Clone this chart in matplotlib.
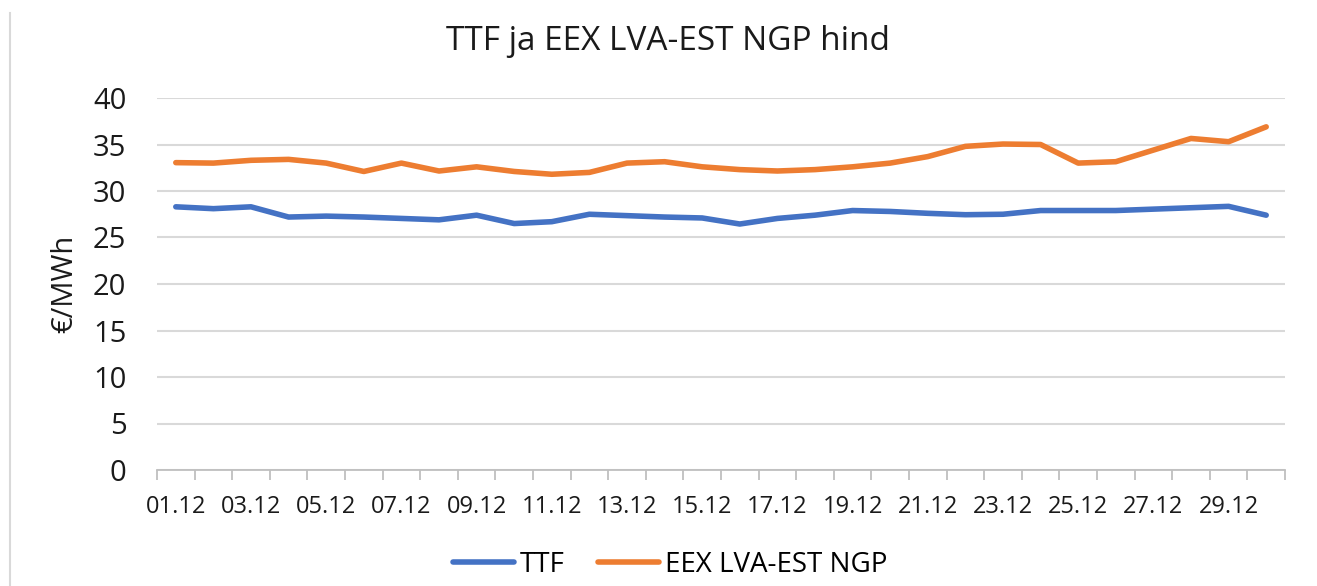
import numpy as np
import matplotlib
matplotlib.use("Agg")
import matplotlib.pyplot as plt
from matplotlib.lines import Line2D

plt.rcParams['font.family'] = ['Open Sans', 'DejaVu Sans']

# data
days = ["%02d.12" % d for d in range(1, 31)]
ttf = [28.3, 28.1, 28.3, 27.2, 27.3, 27.2, 27.05, 26.9, 27.4, 26.5,
       26.7, 27.5, 27.35, 27.2, 27.1, 26.45, 27.05, 27.4, 27.9, 27.8,
       27.6, 27.45, 27.5, 27.9, 27.9, 27.9, 28.05, 28.2, 28.35, 27.4]
eex = [33.05, 33.0, 33.3, 33.4, 33.0, 32.1, 33.0, 32.15, 32.6, 32.1,
       31.8, 32.0, 33.0, 33.15, 32.6, 32.3, 32.15, 32.3, 32.6, 33.0,
       33.7, 34.8, 35.05, 35.0, 33.0, 33.15, 34.4, 35.65, 35.3, 36.9]
yticks = [0, 5, 10, 15, 20, 25, 30, 35, 40]

blue = '#4472C4'
orange = '#ED7D31'
grid = '#D9D9D9'
txt = '#1a1a1a'

fig = plt.figure(figsize=(13.17, 5.86), dpi=100)
ax = fig.add_axes([157 / 1317, 1 - 470 / 586, (1285 - 157) / 1317, (470 - 98) / 586])

x = np.arange(len(days))
ax.plot(x, ttf, color=blue, lw=4, solid_capstyle='round', label='TTF')
ax.plot(x, eex, color=orange, lw=4, solid_capstyle='round', label='EEX LVA-EST NGP')

ax.set_xlim(-0.5, len(days) - 0.5)
ax.set_ylim(0, 40)
ax.set_yticks(yticks)
ax.set_yticklabels([str(v) for v in yticks], fontsize=21, color=txt)
ax.tick_params(axis='y', length=0, pad=22)

ax.set_xticks(x[::2])
ax.set_xticklabels(days[::2], fontsize=17, color=txt)
ax.set_xticks(np.arange(-0.5, len(days), 1.0), minor=True)
ax.tick_params(axis='x', which='major', length=0, pad=18)
ax.tick_params(axis='x', which='minor', length=7, width=1.3, color='#BFBFBF', direction='out')

ax.grid(axis='y', color=grid, lw=1.5)
ax.set_axisbelow(True)
for s in ['top', 'right', 'left']:
    ax.spines[s].set_visible(False)
ax.spines['bottom'].set_color('#BFBFBF')
ax.spines['bottom'].set_linewidth(1.3)

ax.set_ylabel('€/MWh', fontsize=21, color=txt, labelpad=10)
fig.text(668 / 1317, 1 - 42 / 586, 'TTF ja EEX LVA-EST NGP hind', ha='center', va='center',
         fontsize=24, color=txt)

fig.legend(loc='center', bbox_to_anchor=(670 / 1317, 1 - 565 / 586), ncol=2, frameon=False,
           fontsize=20, handlelength=2.2, columnspacing=1.2, handletextpad=0.2)

# page border line on the left of the screenshot
fig.add_artist(Line2D([10 / 1317, 10 / 1317], [0, 1 - 13 / 586], color='#D9D9D9', lw=1.5))

fig.savefig('out.png', dpi=100)
